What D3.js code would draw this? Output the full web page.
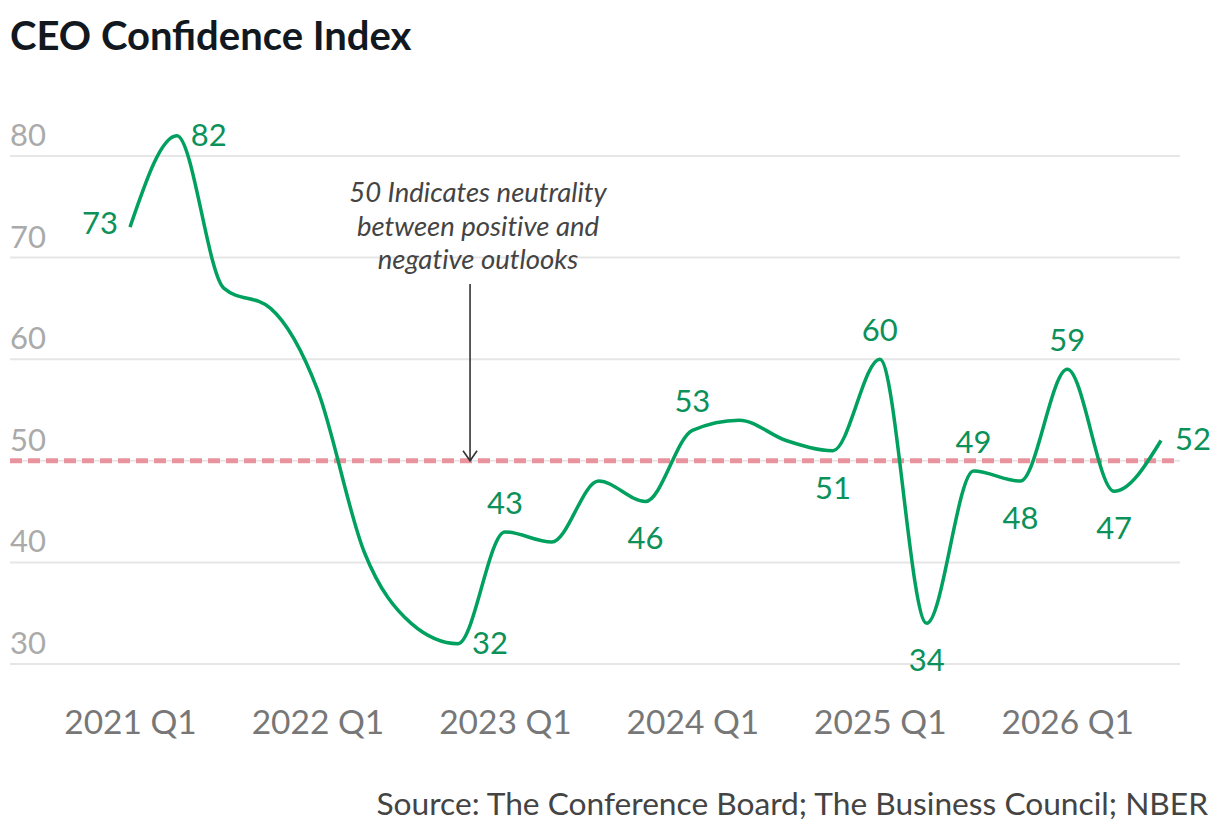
<!DOCTYPE html>
<html>
<head>
<meta charset="utf-8">
<script src="https://cdn.jsdelivr.net/npm/d3@7"></script>
<style>
  body { margin: 0; background: #fff; }
  svg { display: block; font-family: Lato, "Open Sans", sans-serif; }
</style>
</head>
<body>
<div id="chart"></div>
<script>
// quarterly CEO confidence readings
const quarters = [
  "2021 Q1", "2021 Q2", "2021 Q3", "2021 Q4",
  "2022 Q1", "2022 Q2", "2022 Q3", "2022 Q4",
  "2023 Q1", "2023 Q2", "2023 Q3", "2023 Q4",
  "2024 Q1", "2024 Q2", "2024 Q3", "2024 Q4",
  "2025 Q1", "2025 Q2", "2025 Q3", "2025 Q4",
  "2026 Q1", "2026 Q2", "2026 Q3"
];
const confidence = [73, 82, 67, 65, 57, 41, 34, 32, 43, 42, 48, 46, 53, 54, 52, 51, 60, 34, 49, 48, 59, 47, 52];
const yTicks = [30, 40, 50, 60, 70, 80];
const neutral = 50;
// which points get a value label, and on which side
const labelled = [
  [0, "left"], [1, "right"], [7, "right"], [8, "above"], [11, "below"],
  [12, "above"], [15, "below"], [16, "above"], [17, "below"], [18, "above"],
  [19, "below"], [20, "above"], [21, "below"], [22, "right"]
];
const noteLines = ["50 Indicates neutrality", "between positive and", "negative outlooks"];

const width = 1220, height = 832;
const green = "#00a05f", greenText = "#0b9159";

const svg = d3.select("#chart").append("svg")
  .attr("width", width).attr("height", height);

const x = d3.scalePoint().domain(quarters).range([130, 1161]);
const y = d3.scaleLinear().domain([30, 80]).range([664, 156]);

// title
svg.append("text")
  .attr("x", 10).attr("y", 50)
  .style("font-size", "40px").style("font-weight", "bold")
  .style("fill", "#111820")
  .text("CEO Confidence Index");

// gridlines + y labels
svg.append("g").selectAll("line").data(yTicks).join("line")
  .attr("x1", 10).attr("x2", 1180)
  .attr("y1", d => y(d)).attr("y2", d => y(d))
  .attr("stroke", "#e6e6e6").attr("stroke-width", 2);

svg.append("g").selectAll("text").data(yTicks).join("text")
  .attr("x", 10).attr("y", d => y(d) - 10)
  .style("font-size", "31px").style("fill", "#aaaaaa")
  .text(d => d);

// neutral line
svg.append("line")
  .attr("x1", 10).attr("x2", 1180)
  .attr("y1", y(neutral)).attr("y2", y(neutral))
  .attr("stroke", "#e8939e").attr("stroke-width", 5)
  .attr("stroke-dasharray", "12,6");

// x axis labels, Q1 only
const xAxis = d3.axisBottom(x)
  .tickValues(quarters.filter(q => q.endsWith("Q1")))
  .tickSize(0).tickPadding(0);
const gx = svg.append("g").attr("transform", "translate(0,734)").call(xAxis);
gx.select(".domain").remove();
gx.selectAll("text")
  .attr("dy", 0)
  .style("font-family", "Lato, sans-serif")
  .style("font-size", "33.5px").style("fill", "#777777");

// the line
const line = d3.line()
  .x((d, i) => x(quarters[i]))
  .y(d => y(d))
  .curve(d3.curveMonotoneX);

svg.append("path")
  .datum(confidence)
  .attr("d", line)
  .attr("fill", "none")
  .attr("stroke", green)
  .attr("stroke-width", 3.5)
  .attr("stroke-linejoin", "round");

// value labels
svg.append("g").selectAll("text").data(labelled).join("text")
  .attr("x", d => {
    const px = x(quarters[d[0]]);
    if (d[1] == "left") return px - 12;
    if (d[1] == "right") return px + 14;
    return px;
  })
  .attr("y", d => {
    const py = y(confidence[d[0]]);
    if (d[1] == "above") return py - 18;
    if (d[1] == "below") return py + 48;
    if (d[1] == "left") return py + 7;
    return py + 10;
  })
  .attr("text-anchor", d => d[1] == "left" ? "end" : (d[1] == "right" ? "start" : "middle"))
  .style("font-size", "31px").style("fill", greenText)
  .text(d => confidence[d[0]]);

// annotation
const note = svg.append("text")
  .attr("text-anchor", "middle")
  .style("font-size", "27.5px").style("font-style", "italic")
  .style("font-variant-ligatures", "none")
  .style("fill", "#444444");
note.selectAll("tspan").data(noteLines).join("tspan")
  .attr("x", 478)
  .attr("y", (d, i) => 202 + i * 33.5)
  .text(d => d);

const ax = x("2022 Q4") + 12;
svg.append("line")
  .attr("x1", ax).attr("x2", ax)
  .attr("y1", 284).attr("y2", y(neutral))
  .attr("stroke", "#333").attr("stroke-width", 1.6);
svg.append("path")
  .attr("d", `M${ax - 7},${y(neutral) - 10} L${ax},${y(neutral)} L${ax + 7},${y(neutral) - 10}`)
  .attr("fill", "none").attr("stroke", "#333").attr("stroke-width", 1.6);

// source
svg.append("text")
  .attr("x", 1208).attr("y", 815)
  .attr("text-anchor", "end")
  .style("font-size", "31.7px").style("fill", "#444444")
  .text("Source: The Conference Board; The Business Council; NBER");
</script>
</body>
</html>
